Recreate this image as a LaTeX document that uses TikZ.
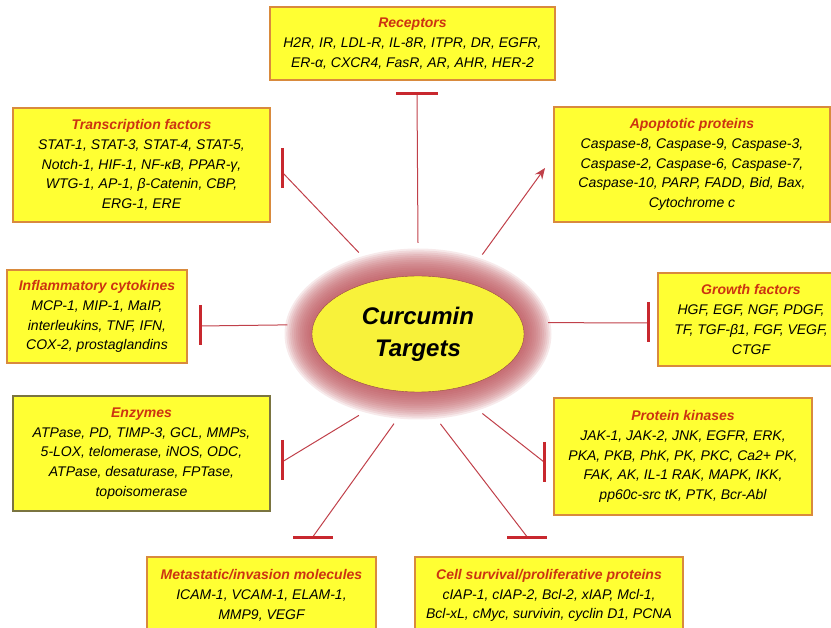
\documentclass[tikz,border=0pt]{standalone}
\usepackage{fontspec}
\setmainfont{Liberation Sans}
\usetikzlibrary{shapes.geometric,arrows.meta}
\definecolor{boxfill}{HTML}{FFFF33}
\definecolor{boxedge}{HTML}{D98A3D}
\definecolor{boxolive}{HTML}{7A7440}
\definecolor{ttlred}{HTML}{CC3311}
\definecolor{linkred}{HTML}{C0404A}
\definecolor{barred}{HTML}{C8282E}
\definecolor{glow}{HTML}{BD555C}
\definecolor{hubfill}{HTML}{F8F23A}

\newcommand{\ttl}[1]{{\bfseries\color{ttlred}#1}}

\begin{document}
\begin{tikzpicture}[x=1pt, y=-1pt,
  tbox/.style={rectangle, draw=boxedge, line width=1.2pt, fill=boxfill, inner sep=0pt, align=center, font=\fontsize{14}{19.8}\selectfont\itshape},
  hub/.style={ellipse, draw=glow!80!black, thin, fill=hubfill, minimum width=212pt, minimum height=116pt, align=center, font=\fontsize{24}{32}\selectfont\bfseries\itshape},
  link/.style={draw=linkred, line width=1pt},
  tbar/.style={draw=barred, line width=3pt}
]
  \clip (0,0) rectangle (831,628);

  % target groups
  \node[tbox, minimum width=285pt, minimum height=73pt] (rec) at (412.5,43.5)
    {\ttl{Receptors}\\H2R, IR, LDL-R, IL-8R, ITPR, DR, EGFR,\\ER-α, CXCR4, FasR, AR, AHR, HER-2};
  \node[tbox, minimum width=257pt, minimum height=114pt] (tf) at (141.5,165)
    {\ttl{Transcription factors}\\STAT-1, STAT-3, STAT-4, STAT-5,\\Notch-1, HIF-1, NF-κB, PPAR-γ,\\WTG-1, AP-1, β-Catenin, CBP,\\ERG-1, ERE};
  \node[tbox, minimum width=276pt, minimum height=115pt] (apo) at (692,164.5)
    {\ttl{Apoptotic proteins}\\Caspase-8, Caspase-9, Caspase-3,\\Caspase-2, Caspase-6, Caspase-7,\\Caspase-10, PARP, FADD, Bid, Bax,\\Cytochrome c};
  \node[tbox, minimum width=180pt, minimum height=93pt] (infl) at (97,316.5)
    {\ttl{Inflammatory cytokines}\\MCP-1, MIP-1, MaIP,\\interleukins, TNF, IFN,\\COX-2, prostaglandins};
  \node[tbox, minimum width=186pt, minimum height=93pt] (grow) at (751,319.5)
    {\ttl{Growth factors}\\HGF, EGF, NGF, PDGF,\\TF, TGF-β1, FGF, VEGF,\\CTGF};
  \node[tbox, draw=boxolive, minimum width=257pt, minimum height=115pt] (enz) at (141.5,453.5)
    {\ttl{Enzymes}\\ATPase, PD, TIMP-3, GCL, MMPs,\\5-LOX, telomerase, iNOS, ODC,\\ATPase, desaturase, FPTase,\\topoisomerase};
  \node[tbox, minimum width=258pt, minimum height=117pt] (pk) at (683,456.5)
    {\ttl{Protein kinases}\\JAK-1, JAK-2, JNK, EGFR, ERK,\\PKA, PKB, PhK, PK, PKC, Ca2+ PK,\\FAK, AK, IL-1 RAK, MAPK, IKK,\\pp60c-src tK, PTK, Bcr-Abl};
  \node[tbox, minimum width=229pt, minimum height=77pt] (met) at (261.5,595.5)
    {\ttl{Metastatic/invasion molecules}\\ICAM-1, VCAM-1, ELAM-1,\\MMP9, VEGF};
  \node[tbox, minimum width=268pt, minimum height=77pt] (cell) at (549,595.5)
    {\ttl{Cell survival/proliferative proteins}\\cIAP-1, cIAP-2, Bcl-2, xIAP, Mcl-1,\\Bcl-xL, cMyc, survivin, cyclin D1, PCNA};

  % centre with its soft red glow
  \coordinate (mid) at (418,334);
  \foreach \g in {1,...,15}
    \fill[glow, opacity=0.12] (mid) ellipse ({105pt+1.9pt*\g} and {57pt+1.9pt*\g});
  \node[hub] (ct) at (mid) {Curcumin\\Targets};
  \node[ellipse, minimum width=262pt, minimum height=182pt, inner sep=0pt] (halo) at (mid) {};

  % line ends
  \coordinate (recbar)  at (417,94);
  \coordinate (tfbar)   at (282,172);
  \coordinate (apotip)  at (545,168);
  \coordinate (inflbar) at (200,326);
  \coordinate (growbar) at (648,323);
  \coordinate (enzbar)  at (282,462);
  \coordinate (pkbar)   at (544,462);
  \coordinate (metbar)  at (312,538);
  \coordinate (cellbar) at (528,538);

  \draw[link] (halo.90) -- (recbar);
  \draw[link] (halo.126) -- (tfbar);
  \draw[link, -{Stealth[length=11pt, width=9pt]}] (halo.51) -- (apotip);
  \draw[link] (halo.176) -- (inflbar);
  \draw[link] (halo.5) -- (growbar);
  \draw[link] (halo.234) -- (enzbar);
  \draw[link] (halo.309) -- (pkbar);
  \draw[link] (halo.255) -- (metbar);
  \draw[link] (halo.284) -- (cellbar);

  % inhibition bars
  \draw[tbar] (recbar) ++(-21,0) -- ++(42,0);
  \draw[tbar] (tfbar) ++(0,-24) -- ++(0,40);
  \draw[tbar] (inflbar) ++(0,-21) -- ++(0,40);
  \draw[tbar] (growbar) ++(0,-21) -- ++(0,40);
  \draw[tbar] (enzbar) ++(0,-22) -- ++(0,40);
  \draw[tbar] (pkbar) ++(0,-20) -- ++(0,40);
  \draw[tbar] (metbar) ++(-19,0) -- ++(40,0);
  \draw[tbar] (cellbar) ++(-21,0) -- ++(40,0);
\end{tikzpicture}
\end{document}
